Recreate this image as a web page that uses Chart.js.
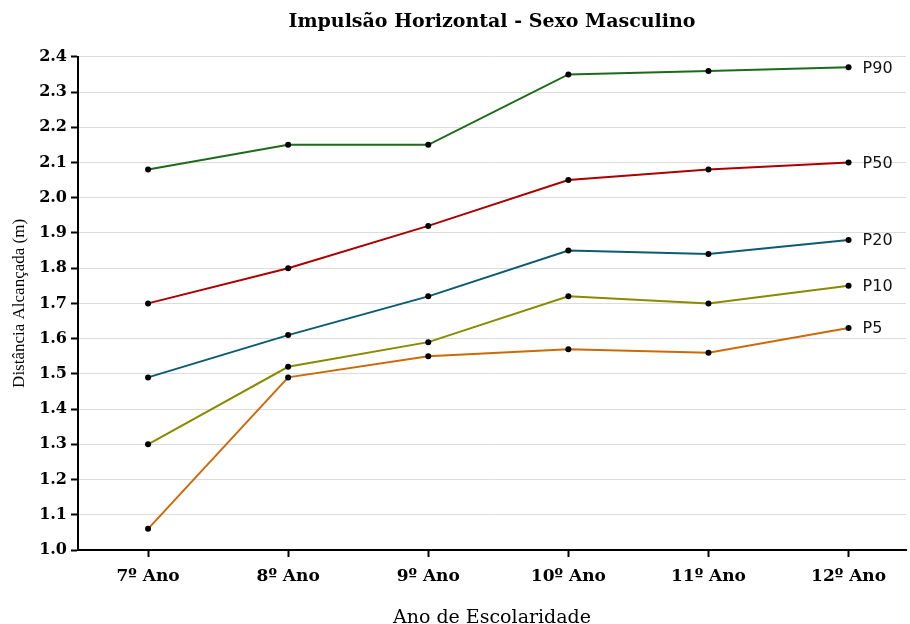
<!DOCTYPE html>
<html>
<head>
<meta charset="utf-8">
<title>Impulsão Horizontal - Sexo Masculino</title>
<script src="https://cdn.jsdelivr.net/npm/chart.js@4"></script>
<style>
  body { margin: 0; background: #fff; }
</style>
</head>
<body>
<canvas id="myChart" width="910" height="624"></canvas>
<script>
// anos de escolaridade
const years = ["7º Ano", "8º Ano", "9º Ano", "10º Ano", "11º Ano", "12º Ano"];

// percentis (m)
const p90 = [2.08, 2.15, 2.15, 2.35, 2.36, 2.37];
const p50 = [1.70, 1.80, 1.92, 2.05, 2.08, 2.10];
const p20 = [1.49, 1.61, 1.72, 1.85, 1.84, 1.88];
const p10 = [1.30, 1.52, 1.59, 1.72, 1.70, 1.75];
const p5 = [1.06, 1.49, 1.55, 1.57, 1.56, 1.63];

const seriesNames = ["P90", "P50", "P20", "P10", "P5"];
const seriesData = [p90, p50, p20, p10, p5];
const seriesColors = ["#1b6b1b", "#ab0000", "#0b5c72", "#8a8a00", "#cc6a08"];

const yTicks = [1.0, 1.1, 1.2, 1.3, 1.4, 1.5, 1.6, 1.7, 1.8, 1.9, 2.0, 2.1, 2.2, 2.3, 2.4];

const datasets = seriesData.map((vals, i) => ({
  label: seriesNames[i],
  data: vals.map((v, j) => ({ x: j, y: v })),
  borderColor: seriesColors[i],
  backgroundColor: "#000",
  borderWidth: 2,
  pointRadius: 3,
  pointBackgroundColor: "#000",
  pointBorderColor: "#000",
  pointBorderWidth: 0,
  tension: 0,
}));

// rótulos P90, P50 ... à direita do último ponto
const endLabels = {
  id: "endLabels",
  afterDatasetsDraw(chart) {
    const ctx = chart.ctx;
    ctx.save();
    ctx.font = "16px 'DejaVu Sans', sans-serif";
    ctx.fillStyle = "#111";
    ctx.textBaseline = "middle";
    ctx.textAlign = "left";
    chart.data.datasets.forEach((ds, i) => {
      const meta = chart.getDatasetMeta(i);
      const pt = meta.data[meta.data.length - 1];
      ctx.fillText(ds.label, pt.x + 14, pt.y + 1);
    });
    ctx.restore();
  },
};

const ctx = document.getElementById("myChart").getContext("2d");
const myChart = new Chart(ctx, {
  type: "line",
  data: { datasets: datasets },
  plugins: [endLabels],
  options: {
    responsive: false,
    animation: false,
    layout: { padding: { left: 0, right: 2, top: 0, bottom: 0 } },
    plugins: {
      legend: { display: false },
      tooltip: { enabled: false },
      title: {
        display: true,
        text: "Impulsão Horizontal - Sexo Masculino",
        fullSize: false,
        color: "#000",
        font: { family: "'DejaVu Serif', serif", size: 19, weight: "bold" },
        padding: { top: 11, bottom: 23 },
      },
    },
    scales: {
      x: {
        type: "linear",
        min: -0.5,
        max: 5.41,
        afterBuildTicks: (scale) => {
          scale.ticks = years.map((_, i) => ({ value: i }));
        },
        afterFit: (scale) => {
          scale.height = 74;
        },
        ticks: {
          callback: (v) => years[v],
          color: "#000",
          font: { family: "'DejaVu Serif', serif", size: 17, weight: "bold" },
          padding: 9,
          maxRotation: 0,
        },
        grid: {
          drawOnChartArea: false,
          drawTicks: true,
          tickLength: 7,
          tickColor: "#000",
          tickWidth: 2,
        },
        border: { display: true, color: "#000", width: 2 },
        title: {
          display: true,
          text: "Ano de Escolaridade",
          color: "#000",
          font: { family: "'DejaVu Serif', serif", size: 19, lineHeight: 0.6 },
          padding: { top: 0, bottom: 0 },
        },
      },
      y: {
        min: 1.0,
        max: 2.4,
        afterBuildTicks: (scale) => {
          scale.ticks = yTicks.map((v) => ({ value: v }));
        },
        afterFit: (scale) => {
          scale.width = 78;
        },
        ticks: {
          callback: (v) => v.toFixed(1),
          color: "#000",
          font: { family: "'DejaVu Serif', serif", size: 16, weight: "bold" },
          padding: 4,
        },
        grid: {
          color: "#dcdcdc",
          lineWidth: 1,
          drawTicks: true,
          tickLength: 7,
          tickColor: "#000",
          tickWidth: 2,
        },
        border: { display: true, color: "#000", width: 2 },
        title: {
          display: true,
          text: "Distância Alcançada (m)",
          color: "#000",
          font: { family: "'Liberation Serif', 'Times New Roman', serif", size: 17 },
          padding: { top: 9, bottom: 0 },
        },
      },
    },
  },
});
</script>
</body>
</html>
